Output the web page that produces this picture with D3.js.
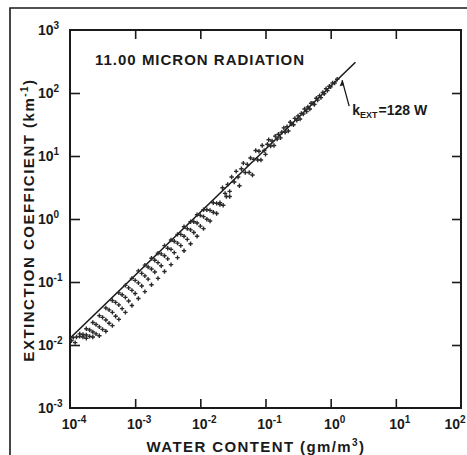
<!DOCTYPE html>
<html>
<head>
<meta charset="utf-8">
<script src="https://cdn.jsdelivr.net/npm/d3@7/dist/d3.min.js"></script>
<style>
  html, body { margin: 0; padding: 0; background: #fff; }
  svg { display: block; }
  text { font-family: "Liberation Sans", Arial, sans-serif; fill: #1a1a1a; }
</style>
</head>
<body>
<svg id="chart" width="467" height="455"></svg>
<script>
// ---------------- data ----------------
const xTickExponents = [-4, -3, -2, -1, 0, 1, 2];
const yTickExponents = [-3, -2, -1, 0, 1, 2, 3];

// fitted line k_EXT = 128 W
const fitCoef = 128;
const fitRange = [1e-4, 2.4];

// start-of-range points
const startW = [1.05e-4, 1.20e-4];
const startK = [1.17e-2, 1.09e-2];

// dotted rows in the low-water-content band
const rowAW = [1.12e-4,1.41e-4,1.78e-4,2.24e-4,2.82e-4,3.55e-4,4.47e-4,5.62e-4,7.08e-4,8.91e-4,1.12e-3,1.41e-3,1.78e-3,2.24e-3,2.82e-3,3.55e-3,4.47e-3,5.62e-3,7.08e-3,8.91e-3,1.12e-2];
const rowAK = [1.31e-2,1.50e-2,1.81e-2,2.28e-2,2.93e-2,3.86e-2,5.09e-2,6.71e-2,8.85e-2,0.114,0.150,0.185,0.238,0.286,0.378,0.465,0.571,0.753,0.906,1.17,1.40];

const rowBW = [1.26e-4,1.58e-4,2.0e-4,2.51e-4,3.16e-4,3.98e-4,5.01e-4,6.31e-4,7.94e-4,1e-3,1.26e-3,1.58e-3,2e-3,2.51e-3,3.16e-3,3.98e-3,5.01e-3,6.31e-3,7.94e-3,1e-2,1.26e-2,1.58e-2];
const rowBK = [1.34e-2,1.47e-2,1.73e-2,2.12e-2,2.74e-2,3.61e-2,4.75e-2,6.27e-2,8.07e-2,0.106,0.137,0.173,0.222,0.280,0.344,0.444,0.571,0.703,0.906,1.14,1.40,1.81];

const rowCW = [1.41e-4,1.78e-4,2.24e-4,2.82e-4,3.55e-4,4.47e-4,5.62e-4,7.08e-4,8.91e-4,1.12e-3,1.41e-3,1.78e-3,2.24e-3,2.82e-3,3.55e-3,4.47e-3,5.62e-3,7.08e-3,8.91e-3,1.12e-2,1.41e-2,1.78e-2];
const rowCK = [1.37e-2,1.44e-2,1.61e-2,1.94e-2,2.49e-2,3.29e-2,4.34e-2,5.71e-2,7.36e-2,9.70e-2,0.125,0.161,0.203,0.261,0.329,0.414,0.533,0.671,0.865,1.09,1.37,1.77];

const rowDW = [1.58e-4,2.0e-4,2.51e-4,3.16e-4,3.98e-4,5.01e-4,6.31e-4,7.94e-4,1e-3,1.26e-3,1.58e-3,2e-3,2.51e-3,3.16e-3,3.98e-3,5.01e-3,6.31e-3,7.94e-3,1e-2,1.26e-2,1.58e-2,2e-2,2.51e-2];
const rowDK = [1.34e-2,1.37e-2,1.50e-2,1.77e-2,2.22e-2,2.86e-2,3.78e-2,4.98e-2,6.56e-2,8.65e-2,0.111,0.144,0.181,0.233,0.293,0.378,0.475,0.612,0.771,0.993,1.28,1.69,2.28];

const rowEW = [1.78e-4,2.24e-4,2.82e-4,3.55e-4,4.47e-4,5.62e-4,7.08e-4,8.91e-4,1.12e-3,1.41e-3,1.78e-3,2.24e-3,2.82e-3,3.55e-3,4.47e-3,5.62e-3,7.08e-3,8.91e-3,1.12e-2,1.41e-2,1.78e-2,2.24e-2,2.82e-2];
const rowEK = [1.28e-2,1.34e-2,1.40e-2,1.65e-2,2.03e-2,2.55e-2,3.29e-2,4.24e-2,5.46e-2,7.03e-2,9.06e-2,0.114,0.147,0.189,0.244,0.314,0.405,0.533,0.703,0.927,1.22,1.65,2.28];

// scattered points at higher water content
const highW = [2.00e-2,2.19e-2,2.40e-2,2.63e-2,2.82e-2,3.02e-2,3.31e-2,3.55e-2,3.80e-2,3.98e-2,4.27e-2,4.57e-2,4.90e-2,5.25e-2,5.62e-2,5.89e-2,6.31e-2,6.61e-2,7.08e-2,7.59e-2,7.94e-2,8.51e-2,8.91e-2,9.55e-2,0.100,0.107,0.112,0.120,0.126,0.135,0.141,0.151,0.158,0.170,0.178,0.191,0.200,0.214,0.224,0.240,0.251,0.269,0.282,0.302,0.316,0.339,0.355,0.380,0.398,0.427,0.447,0.479,0.501,0.537,0.562,0.603,0.631,0.676,0.708,0.759,0.794,0.851,0.891,0.955,1.00,1.07,1.15,1.26];
const highK = [1.81,3.14,2.55,3.52,2.74,4.65,3.86,5.71,4.65,3.37,6.27,7.71,5.46,7.36,5.46,9.27,4.98,8.85,12.2,8.65,11.9,8.65,14.7,12.2,10.6,15.4,18.1,14.4,17.3,14.7,20.7,18.5,22.2,19.4,23.8,28.0,23.8,29.3,24.9,34.4,32.1,31.4,39.5,36.9,43.4,38.6,47.5,46.5,55.8,50.9,59.8,55.8,68.7,68.7,65.6,82.6,77.1,90.6,84.5,102,97.1,117,109,128,125,144,144,165];

// ---------------- layout ----------------
const W = 467;
const svg = d3.select("#chart");
const x = d3.scaleLog().domain([1e-4, 1e2]).range([70, 461]);
const y = d3.scaleLog().domain([1e-3, 1e3]).range([408, 30]);
const ink = "#1a1a1a";

// outer frame (top and left edges)
svg.append("path").attr("d", "M10,455V8H467").attr("fill", "none").attr("stroke", ink).attr("stroke-width", 1.6);

const xTicks = xTickExponents.map(e => Math.pow(10, e));
const yTicks = yTickExponents.map(e => Math.pow(10, e));

function styleAxis(g) {
  g.select(".domain").remove();
  g.selectAll(".tick line").attr("stroke", ink).attr("stroke-width", 1.6);
  g.selectAll(".tick text").remove();
}
svg.append("g").attr("transform", "translate(0,408)")
  .call(d3.axisBottom(x).tickValues(xTicks.slice(1, -1)).tickSize(-9)).call(styleAxis);
svg.append("g").attr("transform", "translate(0,30)")
  .call(d3.axisTop(x).tickValues(xTicks.slice(1, -1)).tickSize(-9)).call(styleAxis);
svg.append("g").attr("transform", "translate(70,0)")
  .call(d3.axisLeft(y).tickValues(yTicks.slice(1, -1)).tickSize(-10)).call(styleAxis);
svg.append("g").attr("transform", "translate(461,0)")
  .call(d3.axisRight(y).tickValues(yTicks.slice(1, -1)).tickSize(-9)).call(styleAxis);

// plot box
svg.append("rect").attr("x", x(1e-4)).attr("y", y(1e3))
  .attr("width", x(1e2) - x(1e-4)).attr("height", y(1e-3) - y(1e3))
  .attr("fill", "none").attr("stroke", ink).attr("stroke-width", 2);

// tick labels with superscript exponents
function powerLabel(sel, e) {
  sel.append("tspan").text("10");
  sel.append("tspan").attr("dy", -6).attr("font-size", 10).text(e < 0 ? "-" + Math.abs(e) : String(e));
}
xTickExponents.forEach(e => {
  const t = svg.append("text").attr("x", x(Math.pow(10, e)) + 4).attr("y", 429)
    .attr("text-anchor", "middle").attr("font-size", 14).attr("font-weight", "bold");
  powerLabel(t, e);
  const bb = t.node().getBBox();
  if (bb.x + bb.width > W - 1) t.attr("x", +t.attr("x") - (bb.x + bb.width - (W - 1)));
});
yTickExponents.forEach(e => {
  const t = svg.append("text").attr("x", 38).attr("y", y(Math.pow(10, e)) + 5)
    .attr("text-anchor", "start").attr("font-size", 14).attr("font-weight", "bold");
  powerLabel(t, e);
});

// axis titles
const xt = svg.append("text").attr("x", 256).attr("y", 452).attr("text-anchor", "middle")
  .attr("font-size", 15).attr("font-weight", "bold").attr("letter-spacing", 1.4);
xt.append("tspan").text("WATER CONTENT (gm/m");
xt.append("tspan").attr("dy", -6).attr("font-size", 10).text("3");
xt.append("tspan").attr("dy", 6).text(")");

const yt = svg.append("text").attr("transform", "translate(34,220) rotate(-90)")
  .attr("text-anchor", "middle").attr("font-size", 15).attr("font-weight", "bold").attr("letter-spacing", 1.5);
yt.append("tspan").text("EXTINCTION COEFFICIENT (km");
yt.append("tspan").attr("dy", -6).attr("font-size", 10).text("-1");
yt.append("tspan").attr("dy", 6).text(")");

// in-plot title
svg.append("text").attr("x", 95).attr("y", 65).attr("font-size", 15).attr("font-weight", "bold")
  .attr("letter-spacing", 1.0).text("11.00 MICRON RADIATION");

// fitted line
svg.append("line")
  .attr("x1", x(fitRange[0])).attr("y1", y(fitCoef * fitRange[0]))
  .attr("x2", x(fitRange[1])).attr("y2", y(fitCoef * fitRange[1]))
  .attr("stroke", ink).attr("stroke-width", 1.6);

// scatter points
const rows = [[startW, startK], [rowAW, rowAK], [rowBW, rowBK], [rowCW, rowCK], [rowDW, rowDK], [rowEW, rowEK], [highW, highK]];
const pts = [];
rows.forEach(([ws, ks]) => ws.forEach((w, i) => pts.push({ w, k: ks[i] })));
svg.append("g").selectAll("path").data(pts).join("path")
  .attr("transform", d => `translate(${x(d.w)},${y(d.k)})`)
  .attr("d", "M-2.2,0H2.2M0,-2.2V2.2")
  .attr("stroke", "#2a2a2a").attr("stroke-width", 1.4);

// annotation k_EXT = 128 W with arrow
const tipW = 1.5;
const tip = [x(tipW), y(fitCoef * tipW) + 5];
const tail = [tip[0] + 7, tip[1] + 26];
svg.append("line").attr("x1", tail[0]).attr("y1", tail[1]).attr("x2", tip[0]).attr("y2", tip[1])
  .attr("stroke", ink).attr("stroke-width", 1.3);
svg.append("path")
  .attr("d", `M${tip[0]},${tip[1]}L${tip[0] - 2.5},${tip[1] + 6}L${tip[0] + 1.8},${tip[1] + 5.2}Z`)
  .attr("fill", ink);
const ann = svg.append("text").attr("x", tail[0] + 3).attr("y", tail[1] + 9)
  .attr("font-size", 14).attr("font-weight", "bold");
ann.append("tspan").text("k");
ann.append("tspan").attr("dy", 3).attr("font-size", 9).text("EXT");
ann.append("tspan").attr("dy", -3).attr("dx", 1).text("=128 W");
</script>
</body>
</html>
